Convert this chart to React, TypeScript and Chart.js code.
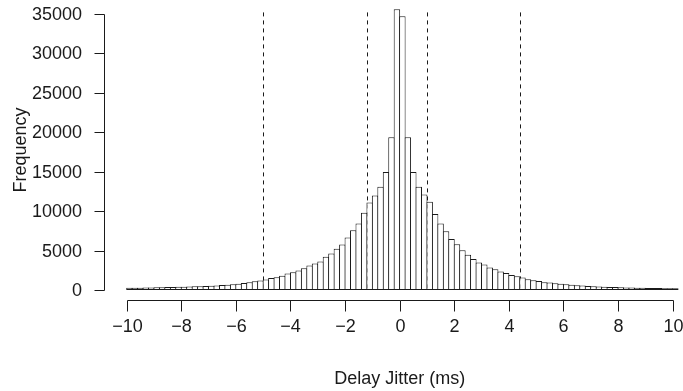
import React, { useEffect, useRef } from "react";
import { Chart, registerables } from "chart.js";

Chart.register(...registerables);

// Histogram of delay jitter: bins of 0.2 ms starting at -10 ms
const BIN_START = -10;
const BIN_WIDTH = 0.2;

// counts for bins (-10,-9.8] ... (-0.2,0]
const COUNTS_NEG = [
  280, 290, 300, 320, 330, 340, 360, 380, 390, 410,
  430, 450, 470, 490, 520, 550, 590, 630, 680, 730,
  800, 890, 1000, 1120, 1220, 1320, 1540, 1620, 1820, 2090,
  2260, 2470, 2770, 3110, 3360, 3630, 4230, 4620, 5240, 5770,
  6660, 7580, 8450, 9800, 11100, 12000, 13100, 14960, 19360, 35600,
];

// counts for bins (0,0.2] ... (10,10.2]
const COUNTS_POS = [
  34700, 19360, 14970, 13100, 12100, 11200, 9640, 8450, 7460, 6470,
  5790, 5050, 4480, 3930, 3490, 3230, 2850, 2620, 2340, 2160,
  1920, 1750, 1580, 1370, 1250, 1160, 1000, 960, 870, 800,
  720, 680, 600, 560, 500, 470, 440, 420, 400, 370,
  350, 330, 320, 300, 280, 270, 260, 250, 240, 230,
  220,
];

const X_TICKS = [-10, -8, -6, -4, -2, 0, 2, 4, 6, 8, 10];
const Y_TICKS = [0, 5000, 10000, 15000, 20000, 25000, 30000, 35000];
const CUT_LINES = [-4.99, -1.19, 1.0, 4.4];
const CUT_TOP = 35200;
const X_TITLE = "Delay Jitter (ms)";
const Y_TITLE = "Frequency";

const FONT = '18px "Liberation Sans", Arial, Helvetica, sans-serif';
const INK = "#1a1a1a";

function fmtX(v: number): string {
  return v < 0 ? "\u2212" + Math.abs(v) : String(v);
}

export default function App() {
  const ref = useRef<HTMLCanvasElement | null>(null);

  useEffect(() => {
    const canvas = ref.current;
    if (!canvas) return;
    const counts = [...COUNTS_NEG, ...COUNTS_POS];
    const points = counts.map((c, i) => ({
      x: BIN_START + BIN_WIDTH * (i + 0.5),
      y: c,
    }));

    const rAxes = {
      id: "rAxes",
      beforeDatasetsDraw(chart: any) {
        const { ctx, scales } = chart;
        const xs = scales.x;
        const ys = scales.y;
        ctx.save();
        ctx.strokeStyle = INK;
        ctx.lineWidth = 1;
        ctx.setLineDash([4, 4]);
        const y0 = ys.getPixelForValue(0);
        const y1 = ys.getPixelForValue(CUT_TOP);
        for (const v of CUT_LINES) {
          const px = Math.round(xs.getPixelForValue(v)) + 0.5;
          ctx.beginPath();
          ctx.moveTo(px, y1);
          ctx.lineTo(px, y0);
          ctx.stroke();
        }
        ctx.restore();
      },
      afterDraw(chart: any) {
        const { ctx, scales, chartArea } = chart;
        const xs = scales.x;
        const ys = scales.y;
        ctx.save();
        ctx.strokeStyle = INK;
        ctx.fillStyle = INK;
        ctx.lineWidth = 1;
        ctx.setLineDash([]);
        ctx.font = FONT;

        // y axis
        const ax = Math.round(chartArea.left) + 0.5;
        const yb = Math.round(ys.getPixelForValue(Y_TICKS[0])) + 0.5;
        const yt = Math.round(ys.getPixelForValue(Y_TICKS[Y_TICKS.length - 1])) + 0.5;
        ctx.beginPath();
        ctx.moveTo(ax, yb);
        ctx.lineTo(ax, yt);
        ctx.stroke();
        ctx.textAlign = "right";
        ctx.textBaseline = "middle";
        for (const t of Y_TICKS) {
          const py = Math.round(ys.getPixelForValue(t)) + 0.5;
          ctx.beginPath();
          ctx.moveTo(ax, py);
          ctx.lineTo(ax - 10, py);
          ctx.stroke();
          ctx.fillText(String(t), ax - 22.5, py + 1);
        }

        // x axis
        const ay = Math.round(chartArea.bottom) + 0.5;
        const xl = Math.round(xs.getPixelForValue(X_TICKS[0])) + 0.5;
        const xr = Math.round(xs.getPixelForValue(X_TICKS[X_TICKS.length - 1])) + 0.5;
        ctx.beginPath();
        ctx.moveTo(xl, ay);
        ctx.lineTo(xr, ay);
        ctx.stroke();
        ctx.textAlign = "center";
        for (const t of X_TICKS) {
          const px = Math.round(xs.getPixelForValue(t)) + 0.5;
          ctx.beginPath();
          ctx.moveTo(px, ay);
          ctx.lineTo(px, ay + 11);
          ctx.stroke();
          ctx.fillText(fmtX(t), px, 327);
        }

        // titles
        ctx.fillText(X_TITLE, xs.getPixelForValue(0), 379);
        ctx.translate(21, 150);
        ctx.rotate(-Math.PI / 2);
        ctx.fillText(Y_TITLE, 0, 0);
        ctx.restore();
      },
    };

    const chart = new Chart(canvas, {
      type: "bar",
      data: {
        datasets: [
          {
            data: points as any,
            backgroundColor: "#ffffff",
            borderColor: INK,
            borderWidth: 1,
            borderSkipped: false,
            barPercentage: 1.18,
            categoryPercentage: 1,
          } as any,
        ],
      },
      options: {
        responsive: false,
        animation: false,
        events: [],
        devicePixelRatio: 1,
        layout: { padding: { left: 104.3, right: 0, top: 0, bottom: 391 - 299.5 } },
        plugins: { legend: { display: false }, tooltip: { enabled: false } },
        scales: {
          x: { type: "linear", min: -10.82, max: 10.38, offset: false, display: false },
          y: { type: "linear", min: -1200, max: 36774, display: false },
        },
      },
      plugins: [rAxes],
    });
    return () => chart.destroy();
  }, []);

  return (
    <div
      style={{
        position: "fixed",
        left: 0,
        top: 0,
        width: 683,
        height: 391,
        background: "#ffffff",
      }}
    >
      <canvas ref={ref} width={683} height={391} style={{ width: 683, height: 391, display: "block" }} />
    </div>
  );
}
